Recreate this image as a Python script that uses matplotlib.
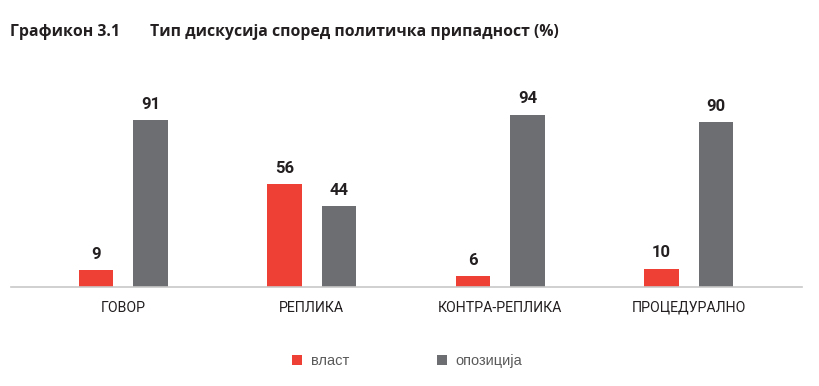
import matplotlib
matplotlib.use("Agg")
import matplotlib.pyplot as plt
import numpy as np
from matplotlib.patches import Patch
from matplotlib import font_manager as fm

categories = ["ГОВОР", "РЕПЛИКА", "КОНТРА-РЕПЛИКА", "ПРОЦЕДУРАЛНО"]
vlast = [9, 56, 6, 10]
opozicija = [91, 44, 94, 90]
series_names = ["власт", "опозиција"]
title_num = "Графикон 3.1"
title_text = "Тип дискусија според политичка припадност (%)"

RED = "#ee4034"
GRAY = "#6d6e71"
TXT = "#231f20"

names = {f.name for f in fm.fontManager.ttflist}
if "Liberation Sans Narrow" in names:
    cat_font, cat_size = "Liberation Sans Narrow", 11.5
else:
    cat_font, cat_size = "Roboto", 10.2

fig = plt.figure(figsize=(8.19, 3.86), dpi=100)
ax = fig.add_axes([11/819, 99/386, 791/819, 183.5/386])

x = np.arange(len(categories))
w = 0.183
off = 0.145
b1 = ax.bar(x - off, vlast, w, color=RED)
b2 = ax.bar(x + off, opozicija, w, color=GRAY)

for bars, vals in ((b1, vlast), (b2, opozicija)):
    for r, v in zip(bars, vals):
        ax.annotate(str(v), (r.get_x() + r.get_width()/2, r.get_height()),
                    xytext=(0, 6), textcoords="offset points",
                    ha="center", va="bottom", fontsize=12, fontweight="bold",
                    family="Roboto", color=TXT)

ax.set_xlim(-0.595, 3.6)
ax.set_ylim(0, 100)
ax.set_xticks(x)
ax.set_xticklabels(categories, family=cat_font, fontsize=cat_size, color=TXT)
ax.tick_params(axis="x", length=0, pad=10)
ax.set_yticks([])
for s in ("top", "right", "left"):
    ax.spines[s].set_visible(False)
ax.spines["bottom"].set_color("#c8c8c8")
ax.spines["bottom"].set_linewidth(1.2)

fig.text(10/819, 1 - 32/386, title_num, fontsize=11.4, fontweight="bold",
         family="Open Sans", color=TXT, va="center", ha="left")
fig.text(150/819, 1 - 32/386, title_text, fontsize=11.3, fontweight="bold",
         family="Open Sans", color=TXT, va="center", ha="left")

handles = [Patch(facecolor=RED), Patch(facecolor=GRAY)]
fig.legend(handles, series_names, loc="center", bbox_to_anchor=(407/819, 25/386),
           ncol=2, frameon=False, handlelength=0.7, handleheight=0.7,
           handletextpad=0.6, columnspacing=6.0,
           prop={"family": "Liberation Sans", "size": 10.5}, labelcolor="#5a5a5a")

fig.savefig("out.png", dpi=100)
